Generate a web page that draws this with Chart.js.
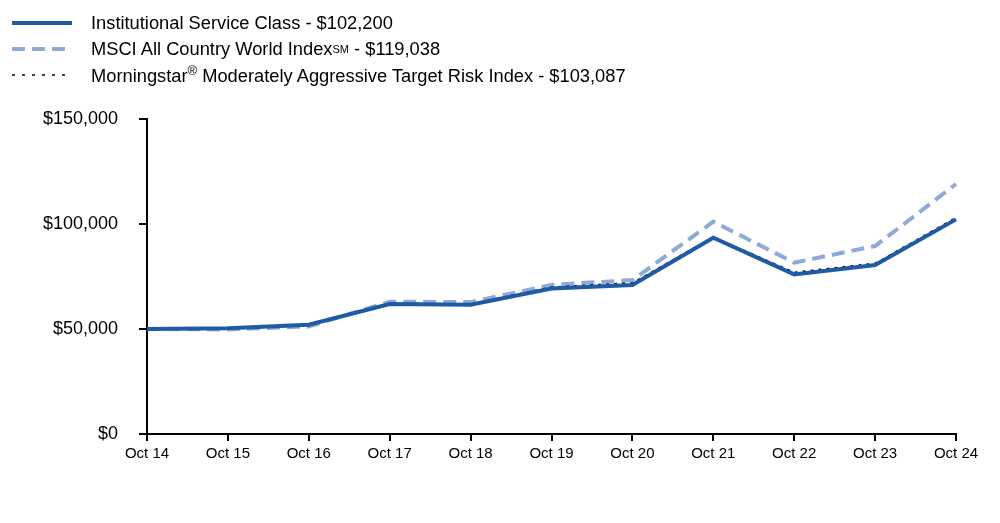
<!DOCTYPE html>
<html>
<head>
<meta charset="utf-8">
<script src="https://cdn.jsdelivr.net/npm/chart.js@4.4.0/dist/chart.umd.min.js"></script>
<style>
  html, body { margin: 0; padding: 0; background: #fff; }
  #wrap { position: relative; width: 1000px; height: 523px; }
  #legend { position: absolute; left: 12px; top: 10px; font-family: "Liberation Sans", Arial, sans-serif; font-size: 18.3px; color: #000; }
  .row { height: 26px; display: flex; align-items: center; }
  .row svg { width: 60px; height: 10px; margin-right: 19px; flex: none; }
  sup { font-size: 13px; }
</style>
</head>
<body>
<div id="wrap">
  <canvas id="growthChart" width="1000" height="523"></canvas>
  <div id="legend">
    <div class="row"><svg><line x1="0" y1="5" x2="60" y2="5" stroke="#1f5aa7" stroke-width="4"/></svg><span>Institutional Service Class - $102,200</span></div>
    <div class="row"><svg><line x1="0" y1="5" x2="60" y2="5" stroke="#8eaad6" stroke-width="4" stroke-dasharray="13 7"/></svg><span>MSCI All Country World Index<span style="font-size:11px;position:relative;top:-2px">SM</span> - $119,038</span></div>
    <div class="row"><svg><line x1="0" y1="5" x2="60" y2="5" stroke="#000" stroke-width="1.5" stroke-dasharray="3 7"/></svg><span>Morningstar<sup>®</sup> Moderately Aggressive Target Risk Index - $103,087</span></div>
  </div>
</div>
<script>
const yearLabels = ["Oct 14", "Oct 15", "Oct 16", "Oct 17", "Oct 18", "Oct 19", "Oct 20", "Oct 21", "Oct 22", "Oct 23", "Oct 24"];
const institutionalValues = [50000, 50300, 52000, 61900, 61600, 69300, 71000, 93500, 76000, 80500, 102200];
const msciValues = [50000, 49800, 51200, 63000, 62800, 71000, 73300, 101100, 81600, 89500, 119038];
const morningstarValues = [50000, 50200, 51600, 62200, 61900, 70000, 72000, 93800, 77000, 81300, 103087];
const yTicks = [0, 50000, 100000, 150000];

const ctx = document.getElementById("growthChart").getContext("2d");

const growthChart = new Chart(ctx, {
  type: "line",
  data: {
    labels: yearLabels,
    datasets: [
      {
        label: "Institutional Service Class - $102,200",
        data: institutionalValues,
        borderColor: "#1f5aa7",
        borderWidth: 4,
        pointRadius: 0,
        tension: 0,
        order: 1,
      },
      {
        label: "Morningstar Moderately Aggressive Target Risk Index - $103,087",
        data: morningstarValues,
        borderColor: "#000000",
        borderWidth: 1.5,
        borderDash: [3, 5],
        pointRadius: 0,
        tension: 0,
        order: 2,
      },
      {
        label: "MSCI All Country World Index - $119,038",
        data: msciValues,
        borderColor: "#8eaad6",
        borderWidth: 4,
        borderDash: [13, 7],
        pointRadius: 0,
        tension: 0,
        order: 3,
      },
    ],
  },
  options: {
    responsive: false,
    animation: false,
    layout: { padding: { top: 119, right: 44, left: 0, bottom: 0 } },
    plugins: { legend: { display: false }, tooltip: { enabled: false } },
    scales: {
      x: {
        offset: false,
        grid: { drawOnChartArea: false, drawTicks: true, tickLength: 7, color: "#000", lineWidth: 2 },
        border: { display: true, color: "#000", width: 2 },
        ticks: { color: "#000", font: { family: "Liberation Sans", size: 15 }, padding: 4, maxRotation: 0 },
        afterFit: (scale) => { scale.height = 89; },
      },
      y: {
        min: 0,
        max: 150000,
        afterBuildTicks: (scale) => { scale.ticks = yTicks.map((v) => ({ value: v })); },
        grid: { drawOnChartArea: false, drawTicks: true, tickLength: 8, color: "#000", lineWidth: 2 },
        border: { display: true, color: "#000", width: 2 },
        ticks: {
          color: "#000",
          font: { family: "Liberation Sans", size: 18 },
          padding: 21,
          callback: (v) => "$" + v.toLocaleString("en-US"),
        },
        afterFit: (scale) => { scale.width = 147; },
      },
    },
  },
});
</script>
</body>
</html>
